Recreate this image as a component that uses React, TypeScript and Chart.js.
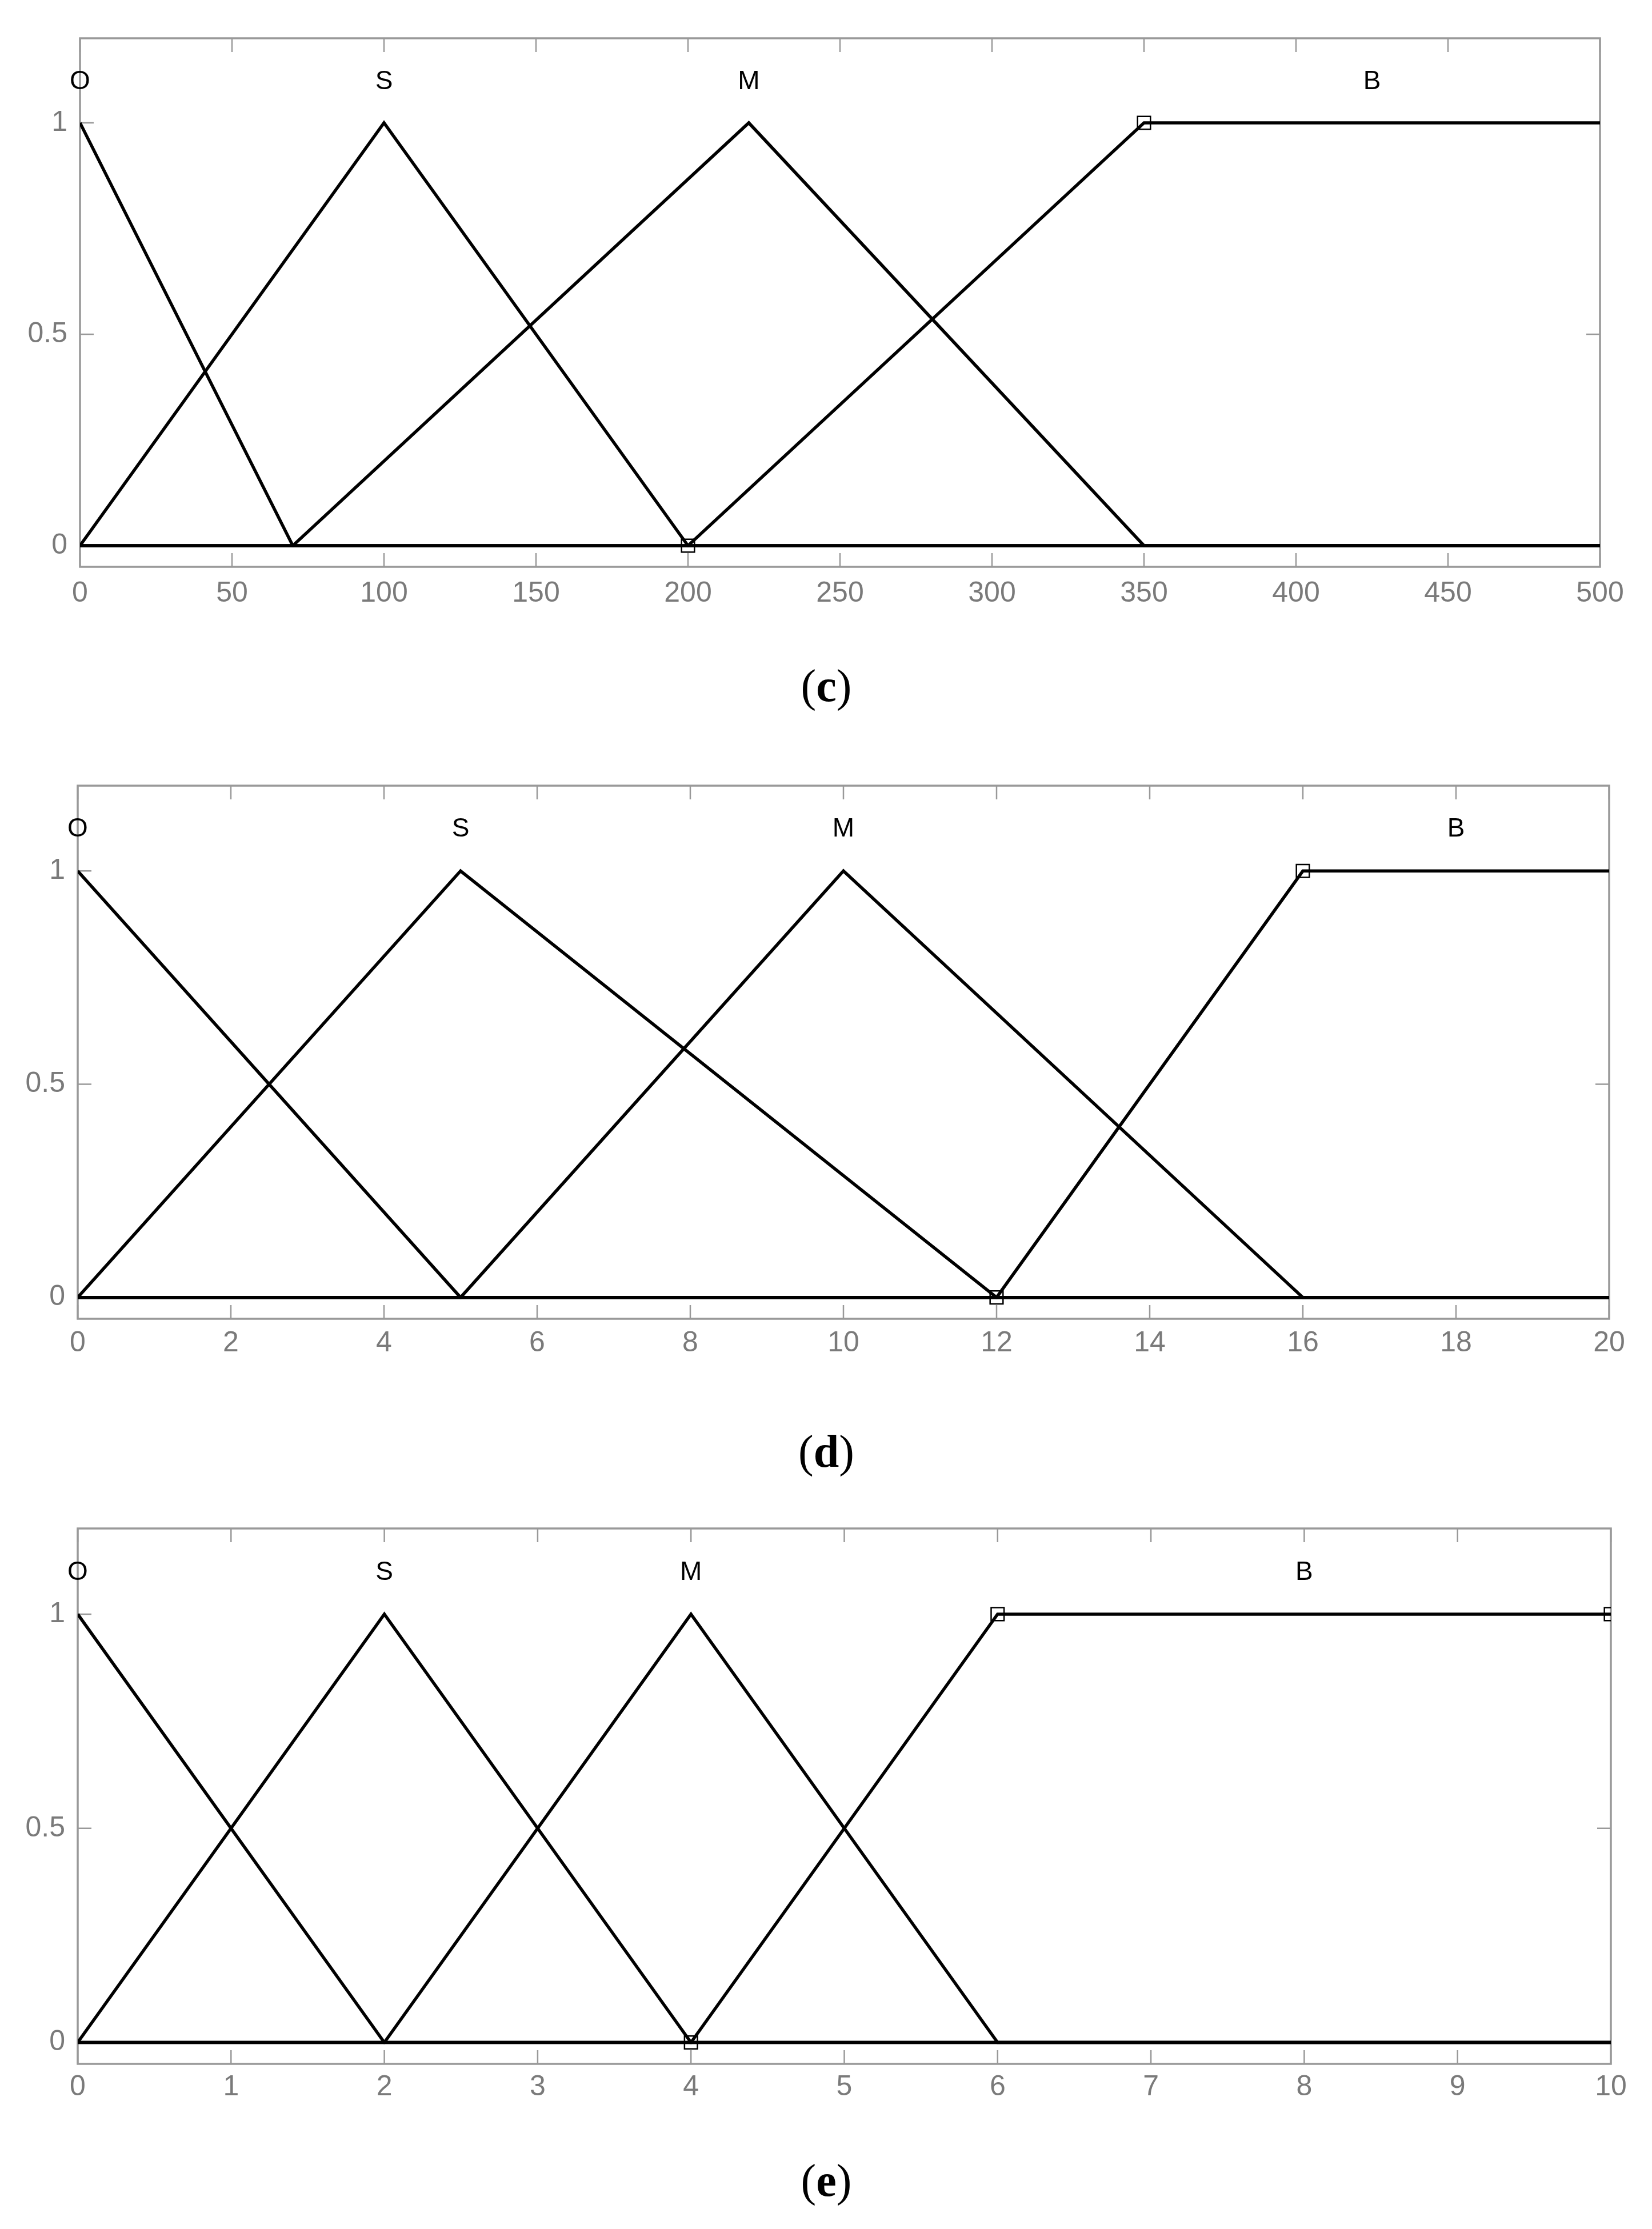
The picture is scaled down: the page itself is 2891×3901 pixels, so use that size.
import React, { useEffect, useRef } from 'react';
import { Chart, registerables } from 'chart.js';

Chart.register(...registerables);

// ---------- shared axis values ----------
const yTicks = [0, 0.5, 1];
const yMin = -0.05;
const yMax = 1.2;
const nameY = 1.1;
const mfNames = ['O', 'S', 'M', 'B'];

// ---------- panel (c) ----------
const cXTicks = [0, 50, 100, 150, 200, 250, 300, 350, 400, 450, 500];
const cO_x = [0, 70, 500];
const cO_y = [1, 0, 0];
const cS_x = [0, 100, 200, 500];
const cS_y = [0, 1, 0, 0];
const cM_x = [0, 70, 220, 350, 500];
const cM_y = [0, 0, 1, 0, 0];
const cB_x = [0, 200, 350, 500];
const cB_y = [0, 0, 1, 1];
const cMarkX = [200, 350];
const cMarkY = [0, 1];
const cNameX = [0, 100, 220, 425];

// ---------- panel (d) ----------
const dXTicks = [0, 2, 4, 6, 8, 10, 12, 14, 16, 18, 20];
const dO_x = [0, 5, 20];
const dO_y = [1, 0, 0];
const dS_x = [0, 5, 12, 20];
const dS_y = [0, 1, 0, 0];
const dM_x = [0, 5, 10, 16, 20];
const dM_y = [0, 0, 1, 0, 0];
const dB_x = [0, 12, 16, 20];
const dB_y = [0, 0, 1, 1];
const dMarkX = [12, 16];
const dMarkY = [0, 1];
const dNameX = [0, 5, 10, 18];

// ---------- panel (e) ----------
const eXTicks = [0, 1, 2, 3, 4, 5, 6, 7, 8, 9, 10];
const eO_x = [0, 2, 10];
const eO_y = [1, 0, 0];
const eS_x = [0, 2, 4, 10];
const eS_y = [0, 1, 0, 0];
const eM_x = [0, 2, 4, 6, 10];
const eM_y = [0, 0, 1, 0, 0];
const eB_x = [0, 4, 6, 10];
const eB_y = [0, 0, 1, 1];
const eMarkX = [4, 6, 10];
const eMarkY = [0, 1, 1];
const eNameX = [0, 2, 4, 8];

const SANS = "'Liberation Sans', Arial, sans-serif";
const AXIS_GRAY = '#999999';
const LABEL_GRAY = '#7a7a7a';

const boxTicksPlugin = {
  id: 'boxTicks',
  beforeDatasetsDraw(chart: any) {
    const { ctx, chartArea: a, scales } = chart;
    const x = scales.x;
    const y = scales.y;
    const L = 24;
    ctx.save();
    ctx.strokeStyle = AXIS_GRAY;
    ctx.lineWidth = 2.5;
    ctx.beginPath();
    x.ticks.forEach((t: any) => {
      const px = x.getPixelForValue(t.value);
      ctx.moveTo(px, a.bottom);
      ctx.lineTo(px, a.bottom - L);
      ctx.moveTo(px, a.top);
      ctx.lineTo(px, a.top + L);
    });
    y.ticks.forEach((t: any) => {
      const py = y.getPixelForValue(t.value);
      ctx.moveTo(a.left, py);
      ctx.lineTo(a.left + L, py);
      ctx.moveTo(a.right, py);
      ctx.lineTo(a.right - L, py);
    });
    ctx.stroke();
    ctx.lineWidth = 3.5;
    ctx.strokeRect(a.left, a.top, a.right - a.left, a.bottom - a.top);
    ctx.restore();
  },
};

const mfLabelsPlugin = {
  id: 'mfLabels',
  afterDatasetsDraw(chart: any, _args: any, opts: any) {
    const { ctx, scales } = chart;
    const x = scales.x;
    const y = scales.y;
    ctx.save();
    ctx.fillStyle = '#000';
    ctx.font = `46px ${SANS}`;
    ctx.textAlign = 'center';
    ctx.textBaseline = 'middle';
    const py = y.getPixelForValue(nameY) + 2;
    (opts.names || []).forEach((n: string, i: number) => {
      ctx.fillText(n, x.getPixelForValue(opts.xs[i]), py);
    });
    ctx.restore();
  },
};

type PanelProps = {
  top: number;
  height: number;
  padTop: number;
  padRight: number;
  yAxisW: number;
  xAxisH: number;
  xPad: number;
  xTicks: number[];
  lines: { x: number[]; y: number[] }[];
  markX: number[];
  markY: number[];
  nameX: number[];
};

function Panel(p: PanelProps) {
  const ref = useRef<HTMLCanvasElement | null>(null);
  useEffect(() => {
    if (!ref.current) return;
    const lineSets = p.lines.map((l) => ({
      data: l.x.map((xv, i) => ({ x: xv, y: l.y[i] })),
      showLine: true,
      borderColor: '#000',
      backgroundColor: '#000',
      borderWidth: 5.5,
      pointRadius: 0,
      pointHoverRadius: 0,
      tension: 0,
      fill: false,
    }));
    const markerSet = {
      data: p.markX.map((xv, i) => ({ x: xv, y: p.markY[i] })),
      showLine: false,
      pointStyle: 'rect',
      pointRadius: 16,
      pointHoverRadius: 16,
      pointBorderColor: '#000',
      pointBorderWidth: 2.5,
      pointBackgroundColor: 'rgba(0,0,0,0)',
    };
    const chart = new Chart(ref.current, {
      type: 'scatter',
      data: { datasets: [markerSet as any, ...lineSets] },
      options: {
        responsive: false,
        animation: false,
        events: [],
        layout: { padding: { top: p.padTop, right: p.padRight, left: 0, bottom: 0 } },
        plugins: {
          legend: { display: false },
          tooltip: { enabled: false },
          mfLabels: { names: mfNames, xs: p.nameX },
        } as any,
        scales: {
          x: {
            type: 'linear',
            min: p.xTicks[0],
            max: p.xTicks[p.xTicks.length - 1],
            afterBuildTicks: (s: any) => {
              s.ticks = p.xTicks.map((v) => ({ value: v }));
            },
            afterFit: (s: any) => {
              s.height = p.xAxisH;
            },
            grid: { display: false, drawTicks: false },
            border: { display: false },
            ticks: {
              color: LABEL_GRAY,
              font: { size: 50, family: SANS },
              padding: p.xPad,
              maxRotation: 0,
              autoSkip: false,
              callback: (v: any) => String(v),
            },
          },
          y: {
            type: 'linear',
            min: yMin,
            max: yMax,
            afterBuildTicks: (s: any) => {
              s.ticks = yTicks.map((v) => ({ value: v }));
            },
            afterFit: (s: any) => {
              s.width = p.yAxisW;
            },
            grid: { display: false, drawTicks: false },
            border: { display: false },
            ticks: {
              color: LABEL_GRAY,
              font: { size: 50, family: SANS },
              padding: 22,
              autoSkip: false,
              callback: (v: any) => String(v),
            },
          },
        },
      } as any,
      plugins: [boxTicksPlugin, mfLabelsPlugin],
    });
    return () => chart.destroy();
  }, []);
  return (
    <canvas
      ref={ref}
      width={2891}
      height={p.height}
      style={{ position: 'absolute', left: 0, top: p.top, width: 2891, height: p.height }}
    />
  );
}

function Caption({ letter, cy }: { letter: string; cy: number }) {
  return (
    <div
      style={{
        position: 'absolute',
        left: 1446,
        top: cy,
        transform: 'translate(-50%, -50%)',
        fontFamily: "'Liberation Serif', 'Times New Roman', serif",
        fontSize: 80,
        lineHeight: 1,
        color: '#000',
        whiteSpace: 'nowrap',
      }}
    >
      (<b>{letter}</b>)
    </div>
  );
}

export default function App() {
  return (
    <div style={{ position: 'absolute', left: 0, top: 0, width: 2891, height: 3901, background: '#fff', overflow: 'hidden' }}>
      <Panel
        top={0}
        height={1120}
        padTop={67}
        padRight={91}
        yAxisW={140}
        xAxisH={128}
        xPad={17}
        xTicks={cXTicks}
        lines={[
          { x: cO_x, y: cO_y },
          { x: cS_x, y: cS_y },
          { x: cM_x, y: cM_y },
          { x: cB_x, y: cB_y },
        ]}
        markX={cMarkX}
        markY={cMarkY}
        nameX={cNameX}
      />
      <Caption letter="c" cy={1200} />
      <Panel
        top={1300}
        height={1120}
        padTop={75}
        padRight={75}
        yAxisW={136}
        xAxisH={112}
        xPad={13}
        xTicks={dXTicks}
        lines={[
          { x: dO_x, y: dO_y },
          { x: dS_x, y: dS_y },
          { x: dM_x, y: dM_y },
          { x: dB_x, y: dB_y },
        ]}
        markX={dMarkX}
        markY={dMarkY}
        nameX={dNameX}
      />
      <Caption letter="d" cy={2540} />
      <Panel
        top={2600}
        height={1120}
        padTop={75}
        padRight={72}
        yAxisW={136}
        xAxisH={108}
        xPad={11}
        xTicks={eXTicks}
        lines={[
          { x: eO_x, y: eO_y },
          { x: eS_x, y: eS_y },
          { x: eM_x, y: eM_y },
          { x: eB_x, y: eB_y },
        ]}
        markX={eMarkX}
        markY={eMarkY}
        nameX={eNameX}
      />
      <Caption letter="e" cy={3816} />
    </div>
  );
}
